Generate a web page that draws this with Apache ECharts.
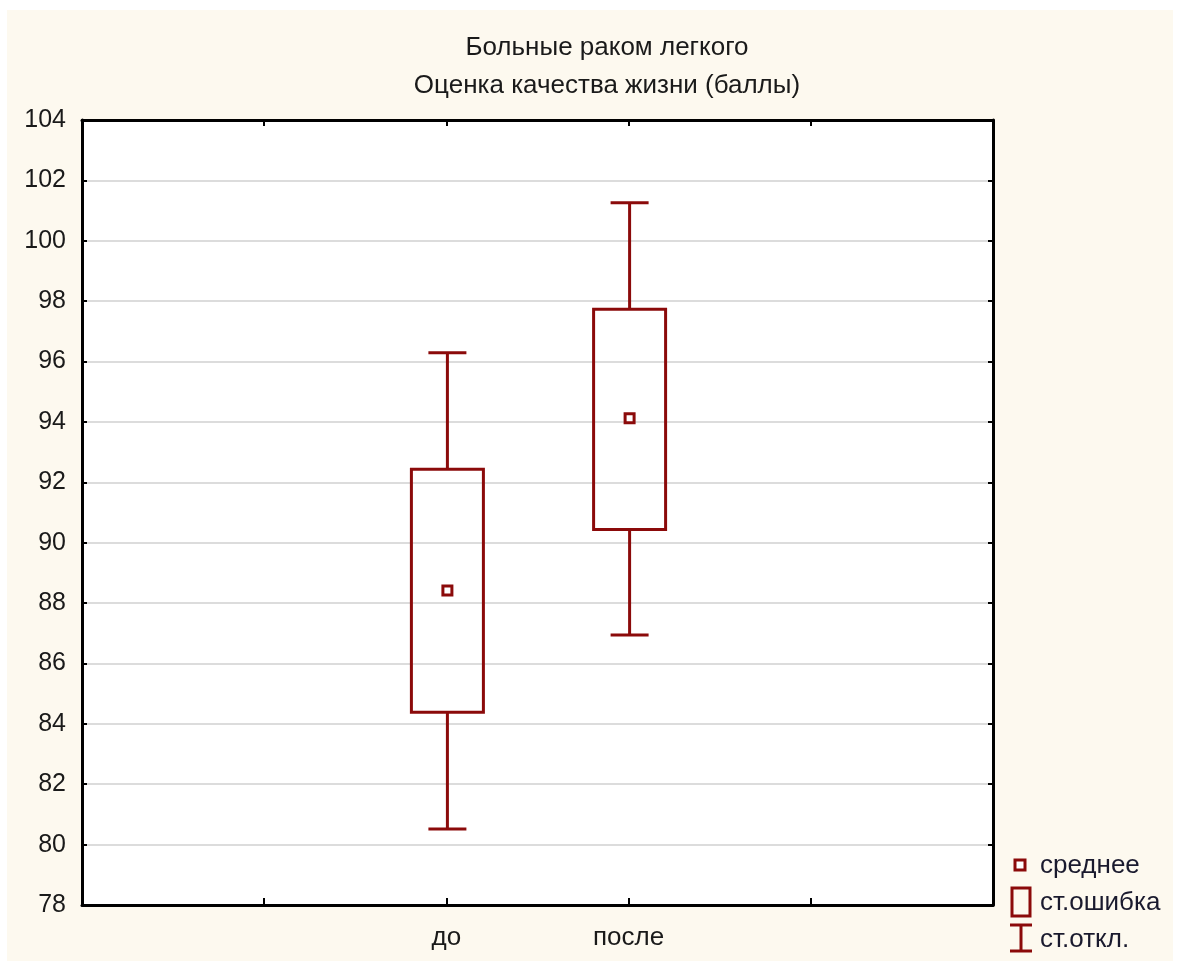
<!DOCTYPE html>
<html>
<head>
<meta charset="utf-8">
<script src="https://cdn.jsdelivr.net/npm/echarts@6/dist/echarts.min.js"></script>
<style>
  html, body { margin: 0; padding: 0; background: #ffffff; }
  #chart { width: 1179px; height: 964px; }
</style>
</head>
<body>
<div id="chart"></div>
<script>
// Category slots along the x axis (labelled groups sit in the middle)
const categories = ['', '', 'до', 'после', '', ''];
const groups = ['до', 'после'];
// Mean, standard-error band and standard-deviation whiskers per group
const means  = [88.42, 94.12];
const seLow  = [84.38, 90.44];
const seHigh = [92.43, 97.73];
const sdLow  = [80.52, 86.94];
const sdHigh = [96.29, 101.26];
const yTicks = [78, 104, 2]; // min, max, step

const DARK_RED = '#8b0a0a';
const FONT = '"Liberation Sans", Arial, sans-serif';
const FS = 25;

const boxData = groups.map((g, i) => [g, means[i], seLow[i], seHigh[i], sdLow[i], sdHigh[i]]);
const meanData = groups.map((g, i) => [g, means[i]]);

const chart = echarts.init(document.getElementById('chart'));

function renderBox(params, api) {
  const x = api.value(0);
  const pHighSE = api.coord([x, api.value(3)]);
  const pLowSE = api.coord([x, api.value(2)]);
  const pHighSD = api.coord([x, api.value(5)]);
  const pLowSD = api.coord([x, api.value(4)]);
  const cx = pHighSE[0] + 1;
  const boxHalf = 36;
  const capHalf = 19;
  const style = { stroke: DARK_RED, lineWidth: 3, fill: null };
  return {
    type: 'group',
    children: [
      { type: 'line', shape: { x1: cx, y1: pHighSD[1], x2: cx, y2: pHighSE[1] }, style },
      { type: 'line', shape: { x1: cx, y1: pLowSE[1], x2: cx, y2: pLowSD[1] }, style },
      { type: 'line', shape: { x1: cx - capHalf, y1: pHighSD[1], x2: cx + capHalf, y2: pHighSD[1] }, style },
      { type: 'line', shape: { x1: cx - capHalf, y1: pLowSD[1], x2: cx + capHalf, y2: pLowSD[1] }, style },
      { type: 'rect', shape: { x: cx - boxHalf, y: pHighSE[1], width: boxHalf * 2, height: pLowSE[1] - pHighSE[1] },
        style: { stroke: DARK_RED, lineWidth: 3, fill: 'rgba(0,0,0,0)' } }
    ]
  };
}

const legendText = { fill: '#1a1a2e', font: '26px ' + FONT, textVerticalAlign: 'middle' };

const option = {
  backgroundColor: '#ffffff',
  animation: false,
  title: {
    text: 'Больные раком легкого\nОценка качества жизни (баллы)',
    left: 602, top: 24, textAlign: 'center',
    textStyle: { fontFamily: FONT, fontSize: 26, fontWeight: 'normal', color: '#1a1a1a', lineHeight: 38 }
  },
  graphic: [
    { type: 'rect', z: -10, silent: true, shape: { x: 7, y: 10, width: 1166, height: 951 }, style: { fill: '#fdf9ef' } },
    // legend
    { type: 'rect', shape: { x: 1015, y: 860, width: 10, height: 10 }, style: { fill: '#ffffff', stroke: DARK_RED, lineWidth: 3 } },
    { type: 'text', x: 1040, y: 866, style: Object.assign({ text: 'среднее' }, legendText) },
    { type: 'rect', shape: { x: 1012, y: 888, width: 18, height: 28 }, style: { fill: null, stroke: DARK_RED, lineWidth: 3 } },
    { type: 'text', x: 1040, y: 903, style: Object.assign({ text: 'ст.ошибка' }, legendText) },
    { type: 'line', shape: { x1: 1021, y1: 925, x2: 1021, y2: 951 }, style: { stroke: DARK_RED, lineWidth: 3 } },
    { type: 'line', shape: { x1: 1010, y1: 925, x2: 1032, y2: 925 }, style: { stroke: DARK_RED, lineWidth: 3 } },
    { type: 'line', shape: { x1: 1010, y1: 951, x2: 1032, y2: 951 }, style: { stroke: DARK_RED, lineWidth: 3 } },
    { type: 'text', x: 1040, y: 940, style: Object.assign({ text: 'ст.откл.' }, legendText) }
  ],
  grid: {
    left: 82, top: 120, right: 186, bottom: 59,
    show: true, backgroundColor: '#ffffff', borderColor: '#000', borderWidth: 0
  },
  xAxis: [
    {
      type: 'category', data: categories, boundaryGap: false, position: 'bottom',
      axisLine: { lineStyle: { color: '#000', width: 3 } },
      axisTick: { inside: true, length: 7, lineStyle: { color: '#000', width: 2 } },
      axisLabel: { color: '#1a1a1a', fontFamily: FONT, fontSize: 26, margin: 20 },
      splitLine: { show: false }
    },
    {
      type: 'category', data: categories, boundaryGap: false, position: 'top',
      axisLine: { lineStyle: { color: '#000', width: 3 } },
      axisTick: { inside: true, length: 6, lineStyle: { color: '#000', width: 2 } },
      axisLabel: { show: false },
      splitLine: { show: false }
    }
  ],
  yAxis: [
    {
      type: 'value', min: yTicks[0], max: yTicks[1], interval: yTicks[2], position: 'left',
      axisLine: { show: true, lineStyle: { color: '#000', width: 3 } },
      axisTick: { show: true, inside: true, length: 5, lineStyle: { color: '#000', width: 2 } },
      axisLabel: { color: '#1a1a1a', fontFamily: FONT, fontSize: FS, margin: 16 },
      splitLine: { show: true, lineStyle: { color: '#dcdcdc', width: 2 } }
    },
    {
      type: 'value', min: yTicks[0], max: yTicks[1], interval: yTicks[2], position: 'right',
      axisLine: { show: true, lineStyle: { color: '#000', width: 3 } },
      axisTick: { show: true, inside: true, length: 5, lineStyle: { color: '#000', width: 2 } },
      axisLabel: { show: false },
      splitLine: { show: false }
    }
  ],
  series: [
    {
      type: 'custom', xAxisIndex: 0, yAxisIndex: 0,
      renderItem: renderBox,
      encode: { x: 0, y: [1, 2, 3, 4, 5] },
      data: boxData, z: 3
    },
    {
      type: 'scatter', xAxisIndex: 0, yAxisIndex: 0,
      symbol: 'rect', symbolSize: 9, symbolOffset: [1, 0],
      itemStyle: { color: '#ffffff', borderColor: DARK_RED, borderWidth: 3, opacity: 1 },
      data: meanData, z: 4
    }
  ]
};

chart.setOption(option);
</script>
</body>
</html>
